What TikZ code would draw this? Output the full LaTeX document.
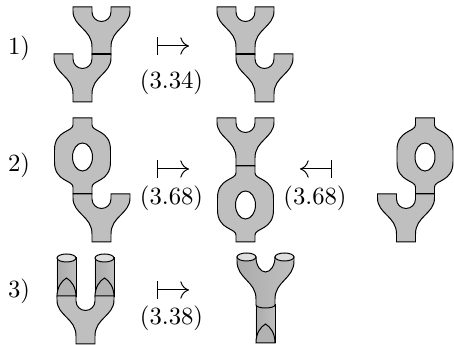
\documentclass[tikz,border=0pt]{standalone}
\usepackage{amsmath}
\usepackage{tikz}
\usetikzlibrary{arrows.meta}
\tikzstyle{surf} = [fill=gray!50, draw=black, line width=0.4pt]
\tikzstyle{seam} = [draw=black, line width=0.8pt]
\tikzstyle{cyl} = [left color=gray!65, middle color=gray!15, right color=gray!50, draw=black, line width=0.4pt]
\tikzstyle{lid} = [fill=gray!25, draw=black, line width=0.4pt]
\tikzstyle{arch} = [fill=gray!60, draw=black, line width=0.4pt]
\tikzstyle{mapsto} = [line width=0.4pt, {Bar[width=7pt]}-{To[length=3.5pt,width=7pt]}]
\newcommand{\pantsat}[2]{
	\begin{scope}[shift={(#1,#2)}]
		\path[surf] (0,0) -- (19,0) -- (19,5) arc[start angle=180, end angle=0, radius=9.5] -- (38,0) -- (57,0) -- (57,4) .. controls (57,20) and (38,22) .. (38,40) -- (38,48) -- (19,48) -- (19,40) .. controls (19,22) and (0,20) .. (0,4) -- cycle;
	\end{scope}}
\newcommand{\handleat}[2]{
	\begin{scope}[shift={(#1,#2)}]
		\path[surf, even odd rule] (19,0) -- (38,0) -- (38,7) .. controls (38,14) and (56.5,12) .. (56.5,32) -- (56.5,44) .. controls (56.5,64) and (38,62) .. (38,69) -- (38,76) -- (19,76) -- (19,69) .. controls (19,62) and (0.5,64) .. (0.5,44) -- (0.5,32) .. controls (0.5,12) and (19,14) .. (19,7) -- cycle
			(28.5,39) ellipse[x radius=10, y radius=14];
	\end{scope}}
\newcommand{\tubeat}[3]{
	\path[cyl] (#1,#2) -- (#1,#3) -- (#1+19,#3) -- (#1+19,#2) -- cycle;
	\path[arch] (#1,#3) .. controls (#1,#3-10) and (#1+4.5,#3-16) .. (#1+9.5,#3-19) .. controls (#1+14.5,#3-16) and (#1+19,#3-10) .. (#1+19,#3) -- cycle;}

\begin{document}
\begin{tikzpicture}[x=0.0142cm, y=-0.0142cm]
				\useasboundingbox (0,0) rectangle (454,345);
				\node (n1) at (19,48) {1)};
				\node (n2) at (19,165) {2)};
				\node (n3) at (19,291) {3)};
				\pantsat{73}{7}
				\pantsat{54}{54}
				\draw[seam] (92,54) -- (111,54);
				\pantsat{217}{7}
				\pantsat{236}{54}
				\draw[seam] (236,54) -- (255,54);
				\coordinate (a1) at (157,46);
				\coordinate (b1) at (189,46);
				\draw[mapsto] (a1) -- (b1);
				\node (l1) at (171.5,82.5) {(3.34)};
				\handleat{54}{118}
				\pantsat{73}{194}
				\draw (73,194) -- (92,194);
				\pantsat{217}{118}
				\handleat{217}{166}
				\draw (236,166) -- (255,166);
				\handleat{396.5}{118}
				\pantsat{377.5}{194}
				\draw (415.5,194) -- (434.5,194);
				\coordinate (a2) at (157,169);
				\coordinate (b2) at (189,169);
				\draw[mapsto] (a2) -- (b2);
				\node (l2) at (171.5,198) {(3.68)};
				\coordinate (a2r) at (332,169);
				\coordinate (b2r) at (300,169);
				\draw[mapsto] (a2r) -- (b2r);
				\node (l2r) at (315,198) {(3.68)};
				\tubeat{57}{258}{297}
				\tubeat{95}{258}{297}
				\path[lid] (66.5,258) ellipse[x radius=9.5, y radius=4];
				\path[lid] (104.5,258) ellipse[x radius=9.5, y radius=4];
				\pantsat{57}{296}
				\tubeat{256}{305}{343}
				\path[cyl] (237,257) -- (237,261) .. controls (237,279) and (256,281) .. (256,299) -- (256,305) arc[start angle=180, end angle=0, x radius=9.5, y radius=3] -- (275,299) .. controls (275,281) and (294,279) .. (294,261) -- (294,257) -- (275,257) arc[start angle=0, end angle=180, x radius=9.5, y radius=15] -- cycle;
				\path[lid] (246.5,257) ellipse[x radius=9.5, y radius=4];
				\path[lid] (284.5,257) ellipse[x radius=9.5, y radius=4];
				\coordinate (a3) at (157,290);
				\coordinate (b3) at (189,290);
				\draw[mapsto] (a3) -- (b3);
				\node (l3) at (171.5,318) {(3.38)};
				\end{tikzpicture}
\end{document}
